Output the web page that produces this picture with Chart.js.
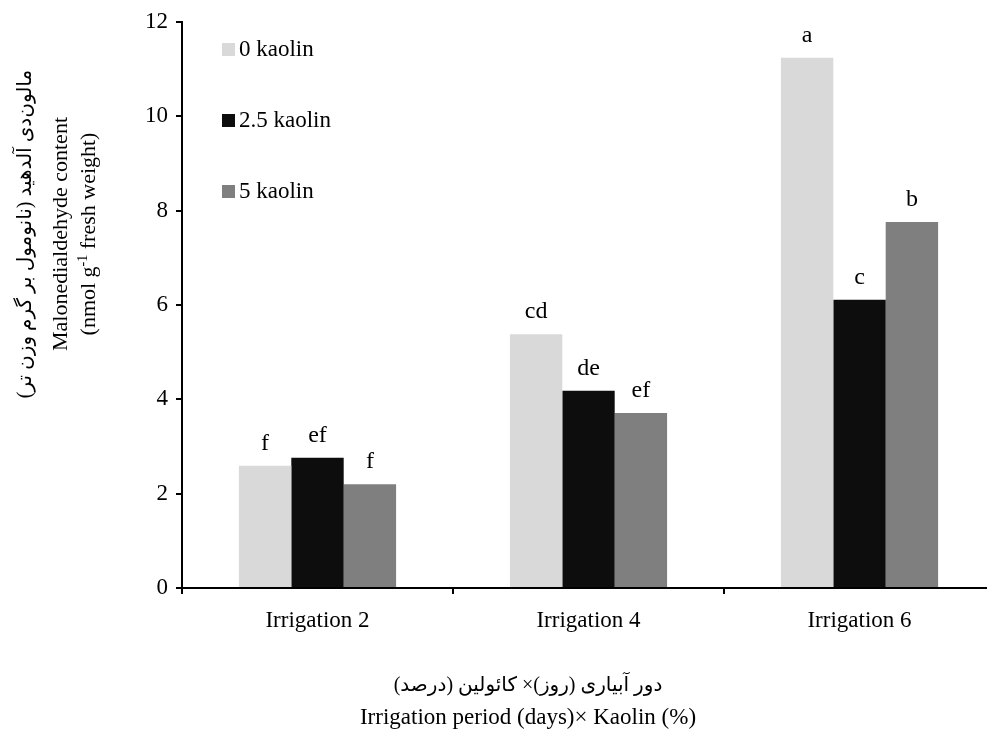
<!DOCTYPE html>
<html>
<head>
<meta charset="utf-8">
<script src="https://cdn.jsdelivr.net/npm/chart.js@4.4.1/dist/chart.umd.min.js"></script>
<style>
  html, body { margin: 0; padding: 0; background: #fff; overflow: hidden; }
  #wrap { width: 987px; height: 734px; overflow: hidden; position: relative; }
  canvas { display: block; }
</style>
</head>
<body>
<div id="wrap"><canvas id="c" width="995" height="734"></canvas></div>
<script>
// Irrigation interval groups
const categories = ['Irrigation 2', 'Irrigation 4', 'Irrigation 6'];

// Malondialdehyde content (nmol g-1 FW) per kaolin level
const kaolin0 = [2.59, 5.38, 11.24];
const kaolin25 = [2.76, 4.18, 6.11];
const kaolin5 = [2.20, 3.71, 7.76];

// Mean-separation letters above each bar
const letters0 = ['f', 'cd', 'a'];
const letters25 = ['ef', 'de', 'c'];
const letters5 = ['f', 'ef', 'b'];

const seriesNames = ['0 kaolin', '2.5 kaolin', '5 kaolin'];
const yTicks = [0, 2, 4, 6, 8, 10, 12];

const SERIF = '"Liberation Serif", "Times New Roman", "DejaVu Serif", serif';
const PERSIAN = '"Liberation Serif", "DejaVu Sans", sans-serif';
const FS = 23;

const letterSets = [letters0, letters25, letters5];

// Letters drawn above each bar, positioned by the bar elements
const letterPlugin = {
  id: 'letters',
  afterDatasetsDraw(chart) {
    const ctx = chart.ctx;
    ctx.save();
    ctx.font = '24px ' + SERIF;
    ctx.fillStyle = '#000';
    ctx.textAlign = 'center';
    ctx.textBaseline = 'alphabetic';
    chart.data.datasets.forEach((ds, di) => {
      const meta = chart.getDatasetMeta(di);
      meta.data.forEach((bar, i) => {
        ctx.fillText(letterSets[di][i], bar.x, bar.y - 16);
      });
    });
    ctx.restore();
  }
};

// Vertical legend inside the plot area
const legendPlugin = {
  id: 'vlegend',
  afterDraw(chart) {
    const ctx = chart.ctx;
    const a = chart.chartArea;
    ctx.save();
    ctx.font = FS + 'px ' + SERIF;
    ctx.textBaseline = 'middle';
    ctx.textAlign = 'left';
    chart.data.datasets.forEach((ds, i) => {
      const cy = a.top + 27 + i * 71;
      ctx.fillStyle = ds.backgroundColor;
      ctx.fillRect(a.left + 40, cy - 6, 13, 13);
      ctx.fillStyle = '#000';
      ctx.fillText(ds.label, a.left + 57, cy + 1);
    });
    ctx.restore();
  }
};

// Bilingual axis titles
const titlePlugin = {
  id: 'axisTitles',
  afterDraw(chart) {
    const ctx = chart.ctx;
    ctx.save();
    ctx.fillStyle = '#000';
    ctx.textBaseline = 'middle';

    // x-axis title
    const cx = 528;
    ctx.textAlign = 'center';
    ctx.direction = 'rtl';
    ctx.font = '20px ' + PERSIAN;
    ctx.fillText('دور آبیاری (روز)× کائولین (درصد)', cx, 686);
    ctx.direction = 'ltr';
    ctx.font = FS + 'px ' + SERIF;
    ctx.fillText('Irrigation period (days)× Kaolin (%)', cx, 718);

    // y-axis title (rotated)
    const cy = 234;
    ctx.translate(0, cy);
    ctx.rotate(-Math.PI / 2);
    ctx.textAlign = 'center';
    ctx.direction = 'rtl';
    ctx.font = '20px ' + PERSIAN;
    ctx.fillText('مالون‌دی آلدهید (نانومول بر گرم وزن تر)', 0, 26);
    ctx.direction = 'ltr';
    ctx.font = '22px ' + SERIF;
    ctx.fillText('Malonedialdehyde content', 0, 61);

    // third line with superscript
    const p1 = '(nmol g', sup = '-1', p2 = ' fresh weight)';
    ctx.font = '22px ' + SERIF;
    const w1 = ctx.measureText(p1).width;
    const w3 = ctx.measureText(p2).width;
    ctx.font = '14px ' + SERIF;
    const w2 = ctx.measureText(sup).width;
    let x = -(w1 + w2 + w3) / 2;
    ctx.textAlign = 'left';
    ctx.font = '22px ' + SERIF;
    ctx.fillText(p1, x, 89);
    x += w1;
    ctx.font = '14px ' + SERIF;
    ctx.fillText(sup, x, 83);
    x += w2;
    ctx.font = '22px ' + SERIF;
    ctx.fillText(p2, x, 89);
    ctx.restore();
  }
};

new Chart(document.getElementById('c'), {
  type: 'bar',
  data: {
    labels: categories,
    datasets: [
      { label: seriesNames[0], data: kaolin0, backgroundColor: '#d9d9d9' },
      { label: seriesNames[1], data: kaolin25, backgroundColor: '#0d0d0d' },
      { label: seriesNames[2], data: kaolin5, backgroundColor: '#7f7f7f' }
    ]
  },
  options: {
    responsive: false,
    devicePixelRatio: 1,
    animation: false,
    layout: { padding: { left: 0, right: 0, top: 22, bottom: 0 } },
    datasets: { bar: { categoryPercentage: 0.58, barPercentage: 1.0, borderWidth: 0 } },
    plugins: { legend: { display: false }, tooltip: { enabled: false } },
    scales: {
      x: {
        offset: true,
        grid: { display: true, offset: true, drawOnChartArea: false, drawTicks: true, tickLength: 6, color: '#000', lineWidth: 2 },
        border: { display: true, color: '#000', width: 2 },
        ticks: { color: '#000', font: { family: SERIF, size: FS }, padding: 13, maxRotation: 0 },
        afterFit(s) { s.height = 734 - 588; }
      },
      y: {
        min: 0, max: 12,
        afterBuildTicks(s) { s.ticks = yTicks.map(v => ({ value: v })); },
        grid: { display: true, drawOnChartArea: false, drawTicks: true, tickLength: 6, color: '#000', lineWidth: 2 },
        border: { display: true, color: '#000', width: 2 },
        ticks: { color: '#000', font: { family: SERIF, size: FS }, padding: 8 },
        afterFit(s) { s.width = 182; }
      }
    }
  },
  plugins: [letterPlugin, legendPlugin, titlePlugin]
});
</script>
</body>
</html>
